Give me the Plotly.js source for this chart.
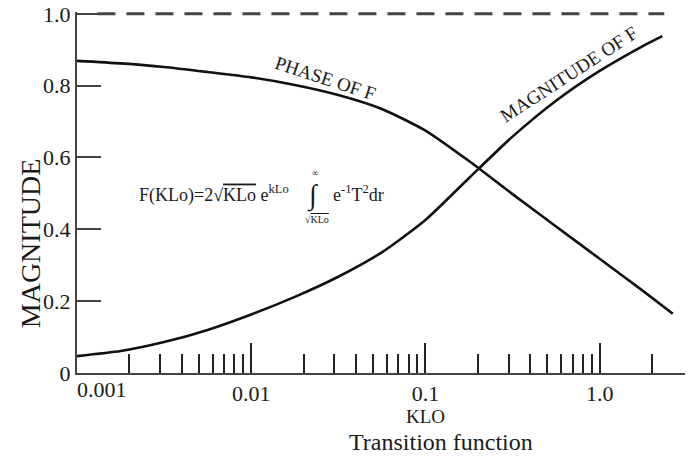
<!DOCTYPE html>
<html>
<head>
<meta charset="utf-8">
<script src="https://cdn.plot.ly/plotly-3.0.1.min.js"></script>
<style>
  html, body { margin: 0; padding: 0; background: #fff; }
  #chart { width: 694px; height: 462px; }
</style>
</head>
<body>
<div id="chart"></div>
<script>
// Transition function F(KLo): phase and magnitude against KLO (log scale)
var phaseK = [0.001, 0.00178, 0.00316, 0.00562, 0.01, 0.0178, 0.0316, 0.0562, 0.1, 0.178, 0.316, 0.562, 1.0, 1.78, 2.63];
var phaseV = [0.869, 0.862, 0.852, 0.838, 0.823, 0.802, 0.774, 0.735, 0.675, 0.590, 0.498, 0.408, 0.318, 0.228, 0.165];

var magK = [0.001, 0.00178, 0.00316, 0.00562, 0.01, 0.0178, 0.0316, 0.0562, 0.1, 0.178, 0.316, 0.562, 1.0, 1.78, 2.29];
var magV = [0.047, 0.061, 0.086, 0.120, 0.163, 0.212, 0.268, 0.336, 0.426, 0.543, 0.658, 0.758, 0.841, 0.911, 0.938];

// asymptote |F| = 1
var limitK = [0.00131, 2.35];
var limitV = [1.0, 1.0];

// axis ticks
var yTickVals = [0, 0.2, 0.4, 0.6, 0.8, 1.0];
var yTickText = ['0', '0.2', '0.4', '0.6', '0.8', '1.0'];
var xMajorVals = [0.01, 0.1, 1.0];
var xMajorText = ['0.01', '0.1', '1.0'];
var xFirstLabel = '0.001';
var xMinorVals = [];
[0.001, 0.01, 0.1, 1].forEach(function (d) {
  for (var m = 2; m <= 9; m++) {
    var v = +(m * d).toPrecision(3);
    if (v < 3) xMinorVals.push(v);
  }
});

var serif = '"Liberation Serif", "Times New Roman", serif';
var ink = '#1a1a1a';

var traces = [
  { x: limitK, y: limitV, mode: 'lines', hoverinfo: 'skip',
    line: { color: '#444', width: 3, dash: '18px,11px' } },
  { x: phaseK, y: phaseV, mode: 'lines', hoverinfo: 'skip',
    line: { color: '#111', width: 2.6, shape: 'spline', smoothing: 0.6 } },
  { x: magK, y: magV, mode: 'lines', hoverinfo: 'skip',
    line: { color: '#111', width: 2.6, shape: 'spline', smoothing: 0.6 } }
];

var layout = {
  width: 694, height: 462,
  margin: { l: 77, r: 9, t: 12, b: 89 },
  paper_bgcolor: '#fff', plot_bgcolor: '#fff',
  showlegend: false,
  font: { family: serif, color: ink },
  xaxis: {
    type: 'log', range: [-3, 0.49],
    showgrid: false, zeroline: false,
    showline: true, linecolor: '#444', linewidth: 2,
    tickmode: 'array', tickvals: xMajorVals, ticktext: xMajorText,
    ticks: 'inside', ticklen: 30, tickwidth: 2, tickcolor: '#222',
    tickfont: { family: serif, size: 22, color: ink },
    minor: { tickmode: 'array', tickvals: xMinorVals, ticks: 'inside',
             ticklen: 19, tickwidth: 2, tickcolor: '#222', showgrid: false }
  },
  yaxis: {
    range: [0, 1.005],
    showgrid: false, zeroline: false,
    showline: true, linecolor: '#444', linewidth: 2,
    tickmode: 'array', tickvals: yTickVals, ticktext: yTickText,
    ticks: 'inside', ticklen: 24, tickwidth: 2, tickcolor: '#444',
    ticklabelstandoff: 0,
    tickfont: { family: serif, size: 22, color: ink }
  },
  annotations: [
    { text: xFirstLabel, xref: 'paper', yref: 'paper', x: -0.004, y: 0,
      xanchor: 'left', yanchor: 'top', yshift: -2, showarrow: false,
      font: { family: serif, size: 22, color: ink } },
    { text: 'KLO', xref: 'paper', yref: 'paper', x: 0.574, y: -0.121,
      xanchor: 'center', yanchor: 'middle', showarrow: false,
      font: { family: serif, size: 19, color: ink } },
    { text: 'Transition function', xref: 'paper', yref: 'paper', x: 0.599, y: -0.19,
      xanchor: 'center', yanchor: 'middle', showarrow: false,
      font: { family: serif, size: 24, color: ink } },
    { text: 'MAGNITUDE', xref: 'paper', yref: 'paper', x: -0.077, y: 0.36,
      xanchor: 'center', yanchor: 'middle', textangle: -90, showarrow: false,
      font: { family: serif, size: 28, color: ink } },
    { text: 'PHASE OF F', xref: 'paper', yref: 'paper', x: 0.4095, y: 0.815,
      xanchor: 'center', yanchor: 'middle', textangle: 18, showarrow: false,
      font: { family: serif, size: 19, color: ink } },
    { text: 'MAGNITUDE OF F', xref: 'paper', yref: 'paper', x: 0.808, y: 0.828,
      xanchor: 'center', yanchor: 'middle', textangle: -33, showarrow: false,
      font: { family: serif, size: 19, color: ink } },
    { text: "F(KLo)=2√<span style='text-decoration:overline'>KLo</span> e<sup>kLo</sup>",
      xref: 'paper', yref: 'paper', x: 0.0987, y: 0.496,
      xanchor: 'left', yanchor: 'middle', showarrow: false,
      font: { family: serif, size: 18, color: ink } },
    { text: '∫', xref: 'paper', yref: 'paper', x: 0.388, y: 0.492,
      xanchor: 'center', yanchor: 'middle', showarrow: false,
      font: { family: serif, size: 28, color: ink } },
    { text: '∞', xref: 'paper', yref: 'paper', x: 0.392, y: 0.555,
      xanchor: 'center', yanchor: 'middle', showarrow: false,
      font: { family: serif, size: 9, color: ink } },
    { text: "√<span style='text-decoration:overline'>KLo</span>",
      xref: 'paper', yref: 'paper', x: 0.395, y: 0.425,
      xanchor: 'center', yanchor: 'middle', showarrow: false,
      font: { family: serif, size: 10, color: ink } },
    { text: 'e<sup>-1</sup>T<sup>2</sup>dr', xref: 'paper', yref: 'paper', x: 0.417, y: 0.496,
      xanchor: 'left', yanchor: 'middle', showarrow: false,
      font: { family: serif, size: 18, color: ink } }
  ]
};

Plotly.newPlot('chart', traces, layout, { staticPlot: true, displayModeBar: false });
</script>
</body>
</html>
